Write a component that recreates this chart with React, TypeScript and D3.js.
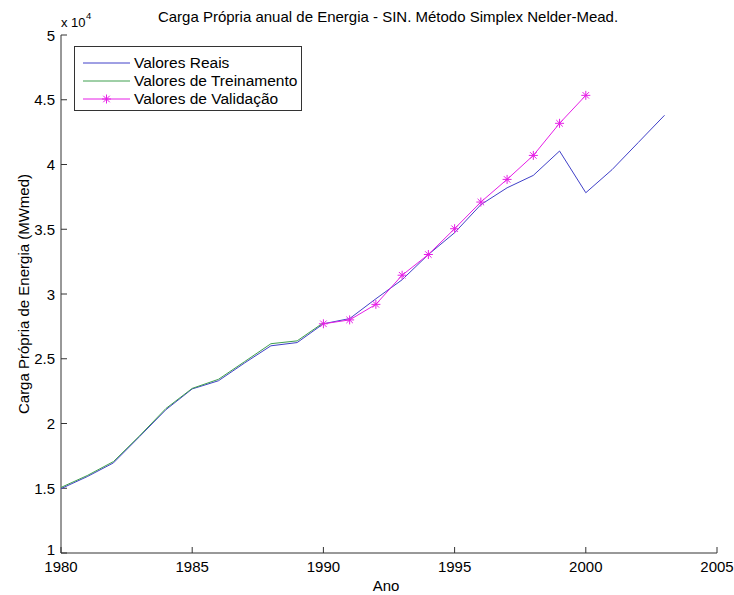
import React from 'react';
import * as d3 from 'd3';

// anos e valores (x 10^4 MWmed)
const realYears = d3.range(1980, 2004);
const realValues = [
  1.497, 1.59, 1.696, 1.9, 2.107, 2.267, 2.33, 2.468, 2.6, 2.625, 2.77,
  2.81, 2.963, 3.11, 3.305, 3.473, 3.69, 3.82, 3.916, 4.104, 3.782, 3.96, 4.17, 4.38,
];
const trainYears = d3.range(1980, 1991);
const trainValues = [1.5, 1.592, 1.7, 1.9, 2.11, 2.265, 2.335, 2.472, 2.61, 2.632, 2.772];
const validYears = d3.range(1990, 2001);
const validValues = [2.77, 2.8, 2.92, 3.145, 3.305, 3.504, 3.71, 3.885, 4.07, 4.318, 4.534];
const xTicks = [1980, 1985, 1990, 1995, 2000, 2005];
const yTicks = [1, 1.5, 2, 2.5, 3, 3.5, 4, 4.5, 5];

const W = 734;
const H = 595;
const margin = { top: 35, right: 17, bottom: 42, left: 61 };
const font = 'Liberation Sans, Arial, sans-serif';

const App: React.FC = () => {
  const x = d3.scaleLinear().domain([1980, 2005]).range([margin.left, W - margin.right]);
  const y = d3.scaleLinear().domain([1, 5]).range([H - margin.bottom, margin.top]);
  const line = d3.line<[number, number]>().x(d => x(d[0])).y(d => y(d[1]));

  const real = realYears.map((yr, i) => [yr, realValues[i]] as [number, number]);
  const train = trainYears.map((yr, i) => [yr, trainValues[i]] as [number, number]);
  const valid = validYears.map((yr, i) => [yr, validValues[i]] as [number, number]);

  const star = (cx: number, cy: number, r = 4.5) => {
    const d = r * 0.72;
    return `M${cx - r},${cy}H${cx + r}M${cx},${cy - r}V${cy + r}M${cx - d},${cy - d}L${cx + d},${cy + d}M${cx - d},${cy + d}L${cx + d},${cy - d}`;
  };

  const bottom = H - margin.bottom;
  const magenta = '#e61ee6';

  return (
    <svg width={W} height={H} style={{ position: 'absolute', left: 0, top: 0, background: '#fff' }} fontFamily={font}>
      <rect width={W} height={H} fill="#fff" />
      <text x={388} y={22} textAnchor="middle" fontSize={15} fill="#000">
        Carga Própria anual de Energia - SIN. Método Simplex Nelder-Mead.
      </text>
      {/* eixos */}
      <path d={`M${margin.left},${margin.top}V${bottom}H${W - margin.right}`} fill="none" stroke="#333" strokeWidth={1} />
      {xTicks.map(t => (
        <g key={t}>
          <line x1={x(t)} x2={x(t)} y1={bottom} y2={bottom - 6} stroke="#333" />
          <text x={x(t)} y={bottom + 19} textAnchor="middle" fontSize={15}>{t}</text>
        </g>
      ))}
      {yTicks.map(t => (
        <g key={t}>
          <line x1={margin.left} x2={margin.left + 6} y1={y(t)} y2={y(t)} stroke="#333" />
          <text x={margin.left - 6} y={t === 1 ? y(t) + 2 : y(t) + 5.5} textAnchor="end" fontSize={15}>{t}</text>
        </g>
      ))}
      <text x={61} y={27} fontSize={13}>x 10</text>
      <text x={86} y={19} fontSize={9.5}>4</text>
      <text x={386} y={591} textAnchor="middle" fontSize={15}>Ano</text>
      <text transform={`translate(29,${(margin.top + bottom) / 2}) rotate(-90)`} textAnchor="middle" fontSize={15}>
        Carga Própria de Energia (MWmed)
      </text>
      {/* series */}
      <path d={line(real) ?? ''} fill="none" stroke="#4040c8" strokeWidth={1} />
      <path d={line(train) ?? ''} fill="none" stroke="#3f9f4f" strokeWidth={1} transform="translate(0,-0.8)" />
      <path d={line(valid) ?? ''} fill="none" stroke={magenta} strokeWidth={1} />
      {valid.map(d => (
        <path key={d[0]} d={star(x(d[0]), y(d[1]))} stroke={magenta} strokeWidth={1} fill="none" />
      ))}
      {/* legenda */}
      <rect x={74.5} y={46.5} width={227} height={64} fill="#fff" stroke="#333" />
      <line x1={83} x2={130} y1={63} y2={63} stroke="#4040c8" />
      <text x={134} y={68} fontSize={15.5}>Valores Reais</text>
      <line x1={83} x2={130} y1={81} y2={81} stroke="#3f9f4f" />
      <text x={134} y={86} fontSize={15.5}>Valores de Treinamento</text>
      <line x1={83} x2={130} y1={99} y2={99} stroke={magenta} />
      <path d={star(106.5, 99)} stroke={magenta} fill="none" />
      <text x={134} y={104} fontSize={15.5}>Valores de Validação</text>
    </svg>
  );
};

export default App;
